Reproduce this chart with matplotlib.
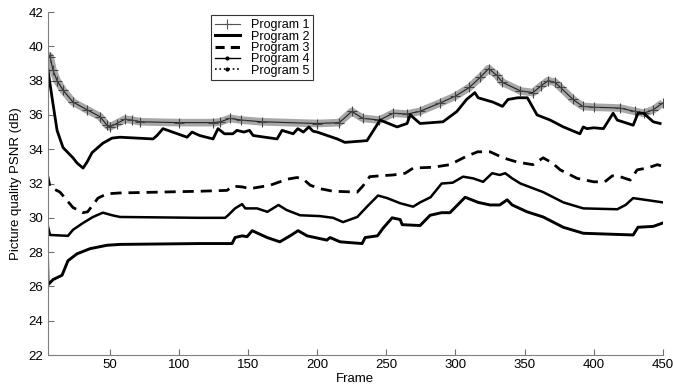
import numpy as np
import matplotlib
matplotlib.use('Agg')
import matplotlib.pyplot as plt
from matplotlib.lines import Line2D

plt.rcParams['font.family'] = ['Liberation Sans', 'DejaVu Sans']

# PSNR per frame for the five programs (frame, dB)
p1_frame = [5, 6.8, 9, 11.9, 16.2, 23.4, 33.6, 43, 48, 50, 55, 61, 66, 72, 100, 125, 130,
            137, 145, 160, 200, 216, 225, 233, 245, 255, 265, 274, 289, 300, 310, 318, 324,
            330, 334, 347, 356, 362, 367, 372, 376, 385, 392, 400, 419, 430, 436, 443, 450]
p1_psnr = [39.5, 39.4, 38.6, 38.0, 37.45, 36.75, 36.3, 35.9, 35.4, 35.3, 35.5, 35.75, 35.7,
           35.6, 35.55, 35.55, 35.6, 35.8, 35.7, 35.6, 35.5, 35.55, 36.2, 35.8, 35.7, 36.1,
           36.05, 36.2, 36.7, 37.1, 37.6, 38.2, 38.7, 38.3, 37.9, 37.4, 37.3, 37.7, 38.0,
           37.9, 37.6, 36.9, 36.5, 36.45, 36.4, 36.2, 36.1, 36.3, 36.7]

p2_frame = [5, 8.3, 11.9, 16.2, 23.4, 26.3, 30.7, 33.6, 37.2, 45, 51.7, 57.4, 81.3, 84.2,
            88.5, 105.9, 109.5, 115, 124.7, 128.3, 133, 139, 142, 147, 151, 153.7, 171,
            174.6, 182.6, 186, 190, 194, 197, 200, 214.5, 220, 236, 245.5, 257.8, 265,
            267.3, 274.4, 291, 301, 308, 314, 316.4, 327, 334, 338, 345, 352, 359, 368.5,
            378, 390, 392.4, 395, 400, 407, 414, 417, 428.5, 432, 436, 443, 448]
p2_psnr = [38.8, 37.0, 35.1, 34.1, 33.5, 33.2, 32.9, 33.25, 33.8, 34.35, 34.65, 34.7, 34.6,
           34.8, 35.2, 34.7, 35.0, 34.8, 34.6, 35.2, 34.9, 34.9, 35.1, 35.0, 35.1, 34.8,
           34.6, 35.1, 34.9, 35.2, 35.0, 35.3, 35.05, 35.0, 34.6, 34.4, 34.5, 35.7, 35.3,
           35.5, 36.0, 35.5, 35.6, 36.2, 36.9, 37.3, 37.0, 36.75, 36.5, 36.9, 37.0, 37.0,
           36.0, 35.7, 35.3, 34.9, 35.3, 35.2, 35.25, 35.2, 36.1, 35.7, 35.4, 36.1, 36.1,
           35.6, 35.5]

p3_frame = [5, 6.8, 14, 23.4, 30.7, 34, 41.5, 48, 57.4, 115, 134.8, 139, 146, 151.5, 158.7,
            166, 173, 178, 185.5, 190, 195, 202, 211.5, 229, 233, 238, 245.5, 255, 263.6,
            269.4, 284, 296, 307, 316, 325, 334.5, 344.6, 356, 363.4, 370, 375.7, 388, 400,
            408, 413.4, 419, 426.4, 431.4, 438.6, 446, 450]
p3_psnr = [32.5, 31.8, 31.5, 30.6, 30.3, 30.35, 31.15, 31.4, 31.45, 31.55, 31.6, 31.85, 31.8,
           31.7, 31.8, 31.9, 32.1, 32.25, 32.35, 32.25, 31.9, 31.7, 31.55, 31.5, 31.85, 32.4,
           32.45, 32.5, 32.6, 32.9, 32.95, 33.1, 33.55, 33.85, 33.85, 33.5, 33.25, 33.1, 33.5,
           33.2, 32.8, 32.3, 32.1, 32.1, 32.45, 32.4, 32.2, 32.8, 32.9, 33.1, 33.0]

p4_frame = [5, 6.8, 19.8, 23.4, 30.7, 37.9, 45, 51.7, 57.4, 115, 133.4, 135.6, 140.6, 145.7,
            148, 156.5, 164, 168, 172, 178, 187.6, 202, 211.5, 218.7, 229, 236, 244, 250.6,
            260, 269.4, 274.4, 282, 290, 298, 305.5, 312.8, 320, 326.5, 332, 336, 341, 347,
            363.4, 378, 392.4, 417, 423, 428.5, 450]
p4_psnr = [29.6, 29.0, 28.95, 29.3, 29.7, 30.05, 30.3, 30.15, 30.05, 30.0, 30.0, 30.15, 30.55,
           30.8, 30.55, 30.55, 30.35, 30.55, 30.75, 30.45, 30.15, 30.1, 30.0, 29.75, 30.05,
           30.65, 31.3, 31.15, 30.85, 30.65, 30.9, 31.2, 32.0, 32.05, 32.4, 32.3, 32.1, 32.6,
           32.5, 32.6, 32.3, 32.0, 31.5, 30.9, 30.55, 30.5, 30.75, 31.15, 30.9]

p5_frame = [5, 5.4, 9, 15.5, 19.8, 26.3, 35.7, 48, 57.4, 115, 138.5, 140.6, 145.7, 149.3, 153,
            163.8, 173, 180.4, 186.2, 192.7, 207, 209.3, 216.6, 232.5, 234.7, 243.6, 247.7,
            254.2, 260, 261.5, 274.4, 281.7, 290, 296, 307, 316.4, 325, 332, 337.4, 341,
            351.8, 363.4, 377.9, 392.4, 428.5, 432, 443, 450]
p5_psnr = [27.8, 26.1, 26.4, 26.65, 27.5, 27.9, 28.2, 28.4, 28.45, 28.5, 28.5, 28.85, 28.95,
           28.9, 29.25, 28.85, 28.6, 28.95, 29.25, 28.95, 28.7, 28.85, 28.6, 28.5, 28.85,
           28.95, 29.4, 30.0, 29.9, 29.6, 29.55, 30.15, 30.3, 30.3, 31.2, 30.9, 30.75, 30.75,
           31.05, 30.75, 30.35, 30.05, 29.45, 29.1, 29.0, 29.45, 29.5, 29.7]

labels = ['Program 1', 'Program 2', 'Program 3', 'Program 4', 'Program 5']
x_ticks = [50, 100, 150, 200, 250, 300, 350, 400, 450]
y_ticks = [22, 24, 26, 28, 30, 32, 34, 36, 38, 40, 42]

fig = plt.figure(figsize=(6.73, 3.88), dpi=100, facecolor='white')
ax = fig.add_axes([0.0706, 0.085, 0.9144, 0.884])

# program 1: dense '+' markers give a grey hatched band around a thin line
ax.plot(p1_frame, p1_psnr, color='#8a8a8a', lw=5.5, alpha=0.75, solid_capstyle='butt')
ax.plot(p1_frame, p1_psnr, color='#222222', lw=0.8, marker='+', ms=6.5, mew=0.8, mec='#444444')
ax.plot(p2_frame, p2_psnr, color='black', lw=2.0)
ax.plot(p3_frame, p3_psnr, color='black', lw=2.0, ls=(0, (4, 2.5)))
ax.plot(p4_frame, p4_psnr, color='black', lw=1.8)
ax.plot(p5_frame, p5_psnr, color='black', lw=2.1)

ax.set_xlim(5, 450)
ax.set_ylim(22, 42)
ax.set_xticks(x_ticks)
ax.set_yticks(y_ticks)
ax.tick_params(direction='in', length=4, width=0.8, color='#707070', labelsize=9.5, pad=3)
ax.spines[['top', 'right']].set_visible(False)
for s in ['left', 'bottom']:
    ax.spines[s].set_color('#808080')
    ax.spines[s].set_linewidth(0.8)

ax.set_xlabel('Frame', fontsize=9.5, labelpad=1)
ax.set_ylabel('Picture quality PSNR (dB)', fontsize=9.5, labelpad=5)

handles = [
    Line2D([], [], color='#555555', lw=0.8, marker='+', ms=7, mew=0.8),
    Line2D([], [], color='black', lw=2.2),
    Line2D([], [], color='black', lw=2.2, ls=(0, (3, 2))),
    Line2D([], [], color='black', lw=1.0, marker='.', ms=4),
    Line2D([], [], color='black', lw=1.2, ls=':', marker='.', ms=4),
]
leg = ax.legend(handles, labels, loc='upper left', bbox_to_anchor=(0.266, 0.99),
                borderaxespad=0, fontsize=9, frameon=True, fancybox=False,
                handlelength=2.0, handletextpad=0.9, labelspacing=-0.05,
                borderpad=0.3, markerscale=1)
leg.get_frame().set_edgecolor('black')
leg.get_frame().set_linewidth(0.8)

fig.savefig('out.png', dpi=100, facecolor='white')
